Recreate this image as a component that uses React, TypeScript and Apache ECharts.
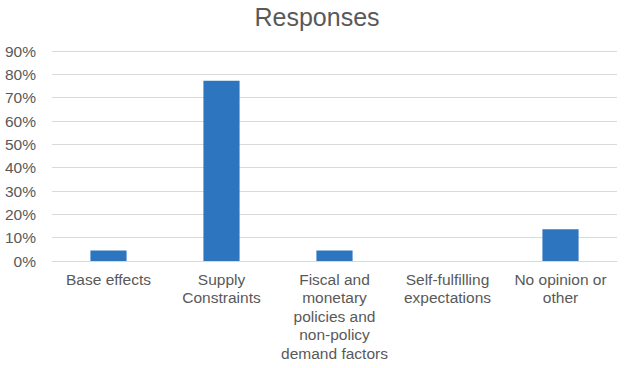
import React, { useEffect, useRef } from "react";
import * as echarts from "echarts";

const categories = [
  "Base effects",
  "Supply\nConstraints",
  "Fiscal and\nmonetary\npolicies and\nnon-policy\ndemand factors",
  "Self-fulfilling\nexpectations",
  "No opinion or\nother",
];
const values = [0.045, 0.773, 0.045, 0, 0.136];
const yTicks = { min: 0, max: 0.9, interval: 0.1 };

export default function App() {
  const ref = useRef<HTMLDivElement>(null);
  useEffect(() => {
    if (!ref.current) return;
    const chart = echarts.init(ref.current, undefined, { renderer: "svg" });
    const font = "'Liberation Sans', Arial, sans-serif";
    chart.setOption({
      animation: false,
      title: {
        text: "Responses",
        left: "center",
        top: -1,
        textStyle: { fontFamily: font, fontSize: 25, fontWeight: "normal", color: "#595959" },
      },
      grid: { left: 52, right: 17, top: 51, bottom: 107, containLabel: false },
      xAxis: {
        type: "category",
        data: categories,
        axisLine: { lineStyle: { color: "#d9d9d9" } },
        axisTick: { show: false },
        axisLabel: {
          interval: 0,
          margin: 9,
          fontFamily: font,
          fontSize: 15.5,
          lineHeight: 18.5,
          color: "#595959",
          align: "center",
        },
      },
      yAxis: {
        type: "value",
        min: yTicks.min,
        max: yTicks.max,
        interval: yTicks.interval,
        axisLine: { show: false },
        axisTick: { show: false },
        splitLine: { lineStyle: { color: "#d9d9d9" } },
        axisLabel: {
          margin: 16,
          fontFamily: font,
          fontSize: 15.5,
          color: "#595959",
          formatter: (v: number) => `${Math.round(v * 100)}%`,
        },
      },
      series: [
        {
          type: "bar",
          data: values,
          barWidth: "32%",
          itemStyle: { color: "#2e75c0" },
        },
      ],
    });
    return () => chart.dispose();
  }, []);
  return <div ref={ref} style={{ width: 634, height: 368, position: "absolute", left: 0, top: 0 }} />;
}
